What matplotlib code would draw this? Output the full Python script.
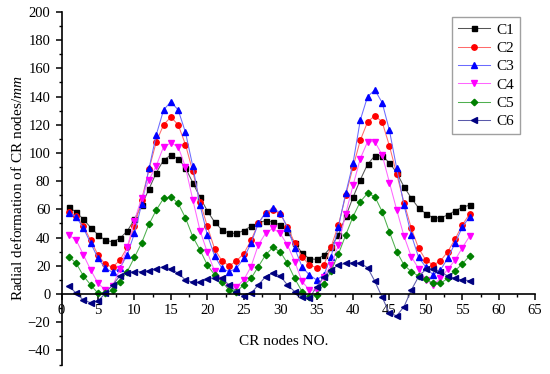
import numpy as np
import matplotlib
matplotlib.use("Agg")
import matplotlib.pyplot as plt
from matplotlib.ticker import MultipleLocator

plt.rcParams["font.family"] = ["Liberation Serif", "DejaVu Serif"]
plt.rcParams["mathtext.fontset"] = "custom"
plt.rcParams["mathtext.rm"] = "Liberation Serif"
plt.rcParams["mathtext.it"] = "Liberation Serif:italic"

# ---- data (node 1..56) ----
nodes = np.arange(1, 57)
c1 = [61.5, 58, 53, 47, 42, 38, 37, 39.5, 44.5, 53, 63, 74.5, 86, 95, 98.5, 96,
      89.5, 79, 68.5, 59, 51, 45.5, 43, 43, 45, 48, 50.5, 52, 51, 49, 44, 36.5,
      29, 25, 24.5, 27.5, 33.5, 42, 55, 68.5, 81, 92, 98, 98, 93, 86, 76, 68,
      61, 57, 54, 54, 56, 59, 61.5, 63]
c2 = [58, 55, 48, 38, 27.7, 21, 19, 24, 33, 48, 67, 88.6, 108, 120, 125.5, 120,
      106, 87, 65.5, 48, 32, 23.6, 19.9, 23.5, 28.6, 38, 50, 57.7, 59.5, 57,
      47.7, 36, 26.5, 20.6, 18.7, 20.6, 33.6, 49, 70, 90, 109, 122, 126.5, 122,
      105, 85, 64.8, 46.6, 32.4, 24, 20.6, 23.4, 30, 38.8, 49, 56.7]
c3 = [57.7, 54.8, 46.6, 36, 25.3, 18.2, 15.4, 18.2, 27.7, 43, 64, 89, 113,
      130.5, 136.4, 130.5, 114.7, 90.8, 63, 42, 27, 18.2, 15.8, 18.2, 25.3, 36,
      50, 57.7, 60.8, 57.7, 47, 32.4, 19.4, 13.5, 10, 13.5, 26.5, 47.7, 71.4,
      92.7, 123.4, 140, 144.7, 135.7, 116, 89, 63, 42, 26, 19, 13.5, 17, 25.3,
      36, 47.3, 54.8]
c4 = [41.8, 38.3, 27.7, 17, 7.6, 2.8, 5.7, 17.5, 33, 52, 68.3, 81, 91, 104.5,
      107, 104.5, 90, 67, 45, 29.6, 16.3, 10, 5, 5, 10, 19.4, 34.8, 43, 46.6, 43,
      34.8, 23, 9, 2.8, 2.8, 12.3, 20.6, 34.8, 57, 77, 96, 108, 108, 98.6, 79,
      59.6, 41, 26.5, 18, 10, 6.4, 11, 17.5, 24, 32.8, 41]
c5 = [26.5, 21.8, 12.8, 6.4, 0.5, 0.5, 2.8, 8.7, 15.8, 26, 36.4, 49.5, 59.6,
      67.8, 69, 64.3, 54, 40.7, 31.2, 20.6, 13.5, 8.7, 2.8, 1.7, 6.4, 11, 19.4,
      27.7, 33, 30, 21.8, 11, 1.7, -1.9, -0.7, 7, 16.5, 28.4, 41.8, 54.8, 65.5,
      71.4, 69, 58.4, 44, 30, 20.6, 15.8, 12.8, 10.4, 7.6, 7.6, 11, 16.5, 21.3,
      27]
c6 = [5.7, 0.5, -4.3, -6.2, -5, 0.5, 6.4, 12.8, 15.1, 15.8, 15.8, 16.5, 17.7,
      19.4, 17.7, 14.7, 10, 8.3, 8.3, 10.6, 11.6, 11, 6.4, 1.7, -1.4, 0.5, 6.4,
      12.3, 15.1, 12.8, 6.4, 1.7, -1.9, -3, 5, 12.3, 17, 20.6, 21.8, 22.2, 21.8,
      18.7, 9, -2.3, -13.7, -15.4, -9, 2.8, 12.3, 17.5, 18, 15.8, 12.8, 11, 10,
      9.5]

labels = ["C1", "C2", "C3", "C4", "C5", "C6"]
series = [c1, c2, c3, c4, c5, c6]
markers = ["s", "o", "^", "v", "D", "<"]
mcolors = ["black", "red", "blue", "magenta", "#008000", "#000080"]
lcolors = ["#555555", "#ff6b6b", "#6b6bff", "#ff66ff", "#4fb04f", "#5a5aaa"]
msizes = [3.6, 3.9, 4.1, 4.1, 3.3, 4.1]

fig = plt.figure(figsize=(5.5, 3.74), dpi=100)
ax = fig.add_axes([0.112, 0.0254, 0.861, 0.9426])

for y, lab, m, mc, lc, ms in zip(series, labels, markers, mcolors, lcolors, msizes):
    ax.plot(nodes, y, color=lc, lw=0.75, marker=m, ms=ms,
            markerfacecolor=mc, markeredgecolor=mc, label=lab)

ax.set_xlim(0, 65)
ax.set_ylim(-50, 200)
ax.spines["top"].set_visible(False)
ax.spines["right"].set_visible(False)
ax.spines["bottom"].set_position(("data", 0))
ax.spines["left"].set_linewidth(1.2)
ax.spines["bottom"].set_linewidth(1.2)

ax.xaxis.set_major_locator(MultipleLocator(5))
ax.xaxis.set_minor_locator(MultipleLocator(2.5))
ax.yaxis.set_major_locator(MultipleLocator(20))
ax.yaxis.set_minor_locator(MultipleLocator(10))
ax.set_yticks(np.arange(-40, 201, 20))
ax.tick_params(axis="both", which="major", direction="out", length=4.5,
               width=1.1, labelsize=10.5)
ax.tick_params(axis="both", which="minor", direction="out", length=2.5, width=1.0)
ax.tick_params(axis="x", pad=3)

ax.text(0.468, 0.065, "CR nodes NO.", transform=ax.transAxes,
        ha="center", va="center", fontsize=11)
ax.set_ylabel("Radial deformation of CR nodes/$mm$", fontsize=11, labelpad=2)

leg = ax.legend(loc="upper left", bbox_to_anchor=(452 / 550, 1 - 17 / 374),
                bbox_transform=fig.transFigure, fontsize=11, frameon=True,
                fancybox=False, edgecolor="#888888", handlelength=2.1,
                labelspacing=0.3, borderpad=0.4, handletextpad=0.4,
                borderaxespad=0)
leg.get_frame().set_linewidth(1.0)

fig.savefig("out.png", dpi=100)
